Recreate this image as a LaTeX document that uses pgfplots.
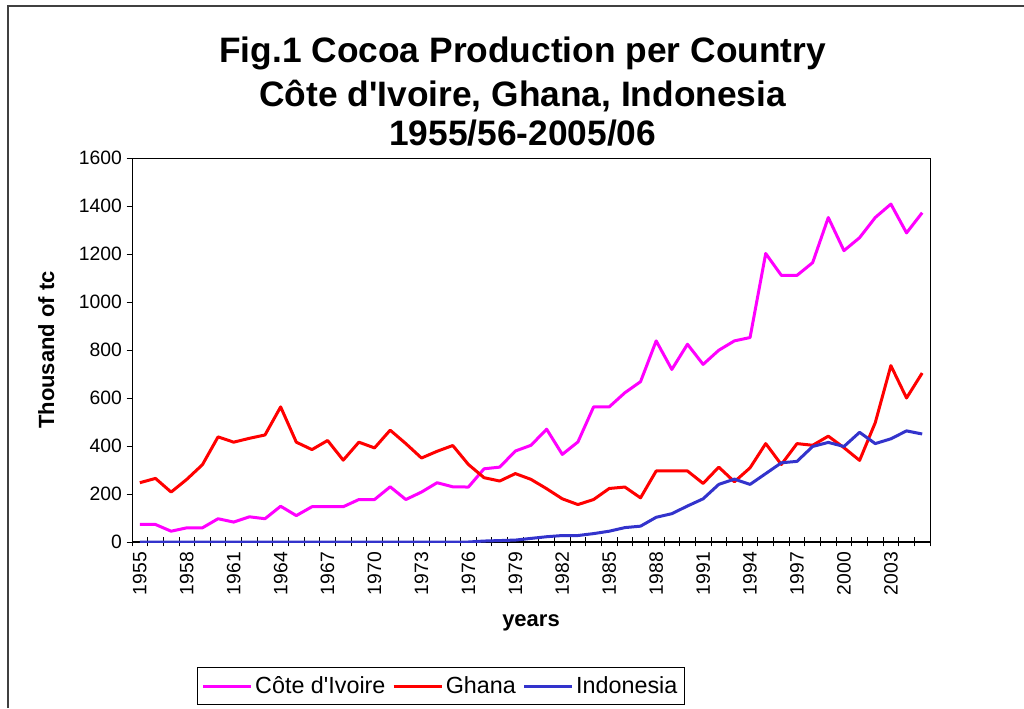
\documentclass[border=0pt]{standalone}
\usepackage{fontspec}
\setmainfont{Liberation Sans}
\usepackage{pgfplots}
\usepackage{pgfplotstable}
\pgfplotsset{compat=1.18}
\definecolor{civ}{RGB}{255,0,255}
\definecolor{gha}{RGB}{255,0,0}
\definecolor{ind}{RGB}{51,51,204}

\pgfplotstableread{
year civ gha ind
1955 73 247 0
1956 73 265 0
1957 45 208 0
1958 59 261 0
1959 59 322 0
1960 97 438 0
1961 83 416 0
1962 105 432 0
1963 97 446 0
1964 149 563 0
1965 110 416 0
1966 147 385 0
1967 147 423 0
1968 147 341 0
1969 177 416 0
1970 177 392 0
1971 230 466 0
1972 177 410 0
1973 208 350 0
1974 247 378 0
1975 230 402 0
1976 229 323 0
1977 305 268 4
1978 312 254 6
1979 379 285 8
1980 403 261 15
1981 470 222 22
1982 365 180 27
1983 417 156 27
1984 563 177 35
1985 563 223 45
1986 622 229 60
1987 668 184 66
1988 838 296 103
1989 719 296 118
1990 824 296 150
1991 740 244 180
1992 799 312 240
1993 838 251 262
1994 852 309 240
1995 1202 410 285
1996 1111 323 330
1997 1111 410 336
1998 1164 403 398
1999 1352 441 415
2000 1214 393 398
2001 1268 340 457
2002 1352 497 410
2003 1408 735 430
2004 1288 600 463
2005 1372 704 450
}\datatable

\begin{document}
\begin{tikzpicture}
\useasboundingbox (0pt,0pt) rectangle (768pt,531pt);
\draw[line width=1.5pt, black!75] (6pt,0pt) -- (6pt,526.5pt) -- (768pt,526.5pt);
\node[font=\bfseries\fontsize{26.5}{30}\selectfont, anchor=base, inner sep=0pt] at (392pt,483.75pt) {Fig.1 Cocoa Production per Country};
\node[font=\bfseries\fontsize{26.5}{30}\selectfont, anchor=base, inner sep=0pt] at (392pt,451pt) {Côte d\textquotesingle Ivoire, Ghana, Indonesia};
\node[font=\bfseries\fontsize{26.5}{30}\selectfont, anchor=base, inner sep=0pt] at (392pt,421.5pt) {1955/56-2005/06};
\begin{axis}[
  at={(99pt,124.5pt)}, anchor=south west,
  width=598.5pt, height=288pt, scale only axis,
  xmin=1954.5, xmax=2005.5, ymin=0, ymax=1600,
  ytick={0,200,...,1600},
  xtick={1955,1958,...,2003},
  minor xtick={1954.5,1955.5,...,2005.5},
  tick align=outside,
  major tick length=4pt,
  minor tick length=6.75pt,
  major x tick style={draw=none},
  minor x tick style={yshift=3.4pt, draw=black, line width=0.6pt},
  ytick style={black, line width=0.75pt},
  xtick pos=bottom, ytick pos=left,
  axis line style={line width=0.75pt},
  ticklabel style={font=\fontsize{14.5}{17}\selectfont, /pgf/number format/assume math mode=true, /pgf/number format/1000 sep={}},
  xticklabel style={rotate=90, anchor=east},
  xlabel={\bfseries years},
  ylabel={\bfseries Thousand of tc},
  label style={font=\fontsize{16.5}{20}\selectfont},
  xlabel style={at={(axis description cs:0.5,-0.2205)}, anchor=base},
  ylabel style={at={(axis description cs:-0.0977,0.5)}, anchor=base},
  every axis plot/.append style={line width=2.25pt, line join=round},
  legend columns=3,
  legend style={at={(axis description cs:0.387,-0.375)}, anchor=center, draw=black, line width=0.75pt,
    font=\fontsize{17.5}{20}\selectfont, inner xsep=3pt, inner ysep=5pt,
    /tikz/every even column/.append style={column sep=3pt}},
  legend image code/.code={\draw[#1] (0pt,0pt) -- (36pt,0pt);},
]
\draw[line width=1.6pt, black] (rel axis cs:0,1) -- (rel axis cs:0,0) -- (rel axis cs:1,0);
\addplot[civ] table[x=year, y=civ] {\datatable};
\addlegendentry{Côte d\textquotesingle Ivoire}
\addplot[gha] table[x=year, y=gha] {\datatable};
\addlegendentry{Ghana}
\addplot[ind] table[x=year, y=ind] {\datatable};
\addlegendentry{Indonesia}
\end{axis}
\end{tikzpicture}
\end{document}
